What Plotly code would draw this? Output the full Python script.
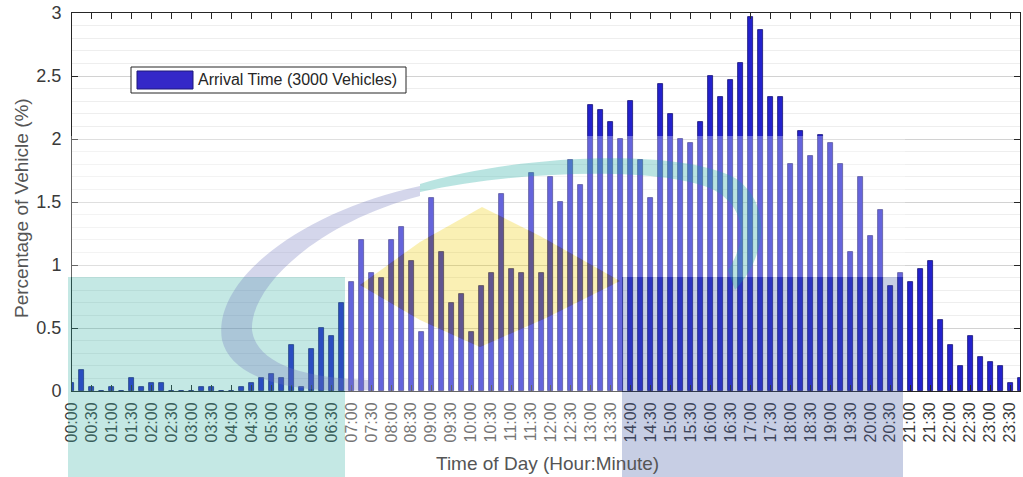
import plotly.graph_objects as go

# ---------------- data ----------------
slots = [f"{h:02d}:{m:02d}" for h in range(24) for m in (0, 15, 30, 45)]
tick_labels = slots[::2]

# number of arriving vehicles in each 15-minute slot (3000 vehicles total)
vehicle_counts = [
    2, 5, 1, 0, 1, 0, 3, 1, 2, 2,
    0, 0, 0, 1, 1, 0, 0, 1, 2, 3,
    4, 3, 11, 1, 10, 15, 13, 21, 26, 36,
    28, 27, 36, 39, 31, 14, 46, 33, 21, 23,
    14, 25, 28, 47, 29, 28, 52, 28, 51, 45,
    55, 49, 68, 67, 64, 60, 69, 55, 46, 73,
    66, 60, 59, 64, 75, 70, 74, 78, 89, 86,
    70, 70, 54, 62, 56, 61, 59, 54, 33, 51,
    37, 43, 25, 28, 26, 29, 31, 17, 11, 6,
    13, 8, 7, 6, 2, 3,
]
total_vehicles = 3000
percent = [c / total_vehicles * 100 for c in vehicle_counts]

series_name = "Arrival Time (3000 Vehicles)"
x_title = "Time of Day (Hour:Minute)"
y_title = "Percentage of Vehicle (%)"

# ---------------- layout geometry ----------------
W, H = 1023, 477
ML, MR, MT, MB = 72, 3, 13, 86
PW = W - ML - MR
PH = H - MT - MB


def px(x):
    return (x - ML) / PW


def py(y):
    return (H - MB - y) / PH


def path(cmds):
    out = []
    for c in cmds:
        op = c[0]
        if op == "Z":
            out.append("Z")
        else:
            pts = " ".join(f"{px(x):.5f},{py(y):.5f}" for x, y in c[1:])
            out.append(f"{op} {pts}")
    return " ".join(out)


def rect_path(x0, y0, x1, y1):
    return path([("M", (x0, y0)), ("L", (x1, y0)), ("L", (x1, y1)),
                 ("L", (x0, y1)), ("Z",)])


FONT = "Liberation Sans, Arial, sans-serif"
AX = "#262626"

fig = go.Figure()
fig.add_trace(go.Bar(
    x=slots, y=percent, width=0.5, name=series_name, showlegend=False,
    marker=dict(color="rgb(35,33,205)", line=dict(color="rgb(22,20,115)", width=0.8)),
))

# ---------------- watermark (logo) overlay ----------------
diamond = [(482, 207), (540, 236), (620, 281), (546, 318), (480, 347),
           (420, 320), (360, 285), (420, 242)]
white_outer = [("M", (68, 136)), ("L", (905, 136)), ("L", (905, 277)),
               ("L", (622, 277)), ("L", (622, 477)), ("L", (345, 477)),
               ("L", (345, 277)), ("L", (68, 277)), ("Z",)]
hole = [("M", diamond[0])] + [("L", p) for p in diamond[1:]] + [("Z",)]
shapes = []
shapes.append(dict(type="path", xref="paper", yref="paper", layer="above",
                   path=path(white_outer + hole), fillcolor="white",
                   opacity=0.3, line=dict(width=0)))
shapes.append(dict(type="path", xref="paper", yref="paper", layer="above",
                   path=rect_path(68, 277, 345, 477), fillcolor="rgb(58,178,165)",
                   opacity=0.3, line=dict(width=0)))
shapes.append(dict(type="path", xref="paper", yref="paper", layer="above",
                   path=rect_path(622, 277, 903, 477), fillcolor="rgb(70,92,165)",
                   opacity=0.3, line=dict(width=0)))
shapes.append(dict(type="path", xref="paper", yref="paper", layer="above",
                   path=path([("M", diamond[0])] + [("L", p) for p in diamond[1:]] + [("Z",)]),
                   fillcolor="rgb(238,205,5)", opacity=0.3, line=dict(width=0)))
# lavender crescent
shapes.append(dict(type="path", xref="paper", yref="paper", layer="above",
                   path=path([("M", (420, 186)),
                              ("C", (300, 212), (212, 280), (222, 340)),
                              ("C", (232, 382), (300, 394), (370, 390)),
                              ("L", (370, 380)),
                              ("C", (300, 378), (256, 362), (252, 330)),
                              ("C", (250, 285), (320, 222), (420, 196)), ("Z",)]),
                   fillcolor="rgb(112,118,188)", opacity=0.3, line=dict(width=0)))
# teal swoosh
shapes.append(dict(type="path", xref="paper", yref="paper", layer="above",
                   path=path([("M", (420, 184)),
                              ("C", (520, 154), (680, 148), (735, 178)),
                              ("C", (772, 203), (768, 255), (735, 290)),
                              ("L", (728, 270)),
                              ("C", (748, 240), (746, 208), (714, 190)),
                              ("C", (670, 168), (530, 168), (420, 192)), ("Z",)]),
                   fillcolor="rgb(22,165,155)", opacity=0.3, line=dict(width=0)))

# ---------------- legend (drawn) ----------------
shapes.append(dict(type="rect", xref="paper", yref="paper", layer="above",
                   x0=px(131), x1=px(406), y0=py(93), y1=py(67),
                   fillcolor="white", line=dict(color=AX, width=1)))
shapes.append(dict(type="rect", xref="paper", yref="paper", layer="above",
                   x0=px(137), x1=px(193), y0=py(89), y1=py(71),
                   fillcolor="rgb(52,40,200)", line=dict(color="rgb(30,25,120)", width=1)))

annotations = [
    dict(text=series_name, xref="paper", yref="paper", x=px(196), y=py(80),
         xanchor="left", yanchor="middle", showarrow=False,
         font=dict(family=FONT, size=16, color=AX)),
    dict(text=x_title, xref="paper", yref="paper", x=px(547), y=py(463),
         xanchor="center", yanchor="middle", showarrow=False,
         font=dict(family=FONT, size=19, color="#555555")),
    dict(text=y_title, xref="paper", yref="paper", x=px(22), y=py(208),
         xanchor="center", yanchor="middle", showarrow=False, textangle=-90,
         font=dict(family=FONT, size=19, color="#555555")),
]

fig.update_layout(
    width=W, height=H,
    margin=dict(l=ML, r=MR, t=MT, b=MB, pad=0),
    paper_bgcolor="white", plot_bgcolor="white",
    shapes=shapes, annotations=annotations,
    bargap=0,
    xaxis=dict(
        type="category", categoryorder="array", categoryarray=slots,
        range=[0, len(slots) - 1], tickmode="array",
        tickvals=tick_labels, ticktext=tick_labels, tickangle=-90,
        ticks="inside", ticklen=6, tickcolor=AX, tickwidth=1,
        showline=True, linecolor=AX, linewidth=1, mirror="ticks",
        showgrid=False, zeroline=False, automargin=False,
        ticklabelstandoff=4,
        tickfont=dict(family=FONT, size=16, color="#3a3a3a"),
    ),
    yaxis=dict(
        range=[0, 3], tickmode="array", tickvals=[0, 0.5, 1, 1.5, 2, 2.5, 3],
        ticktext=["0", "0.5", "1", "1.5", "2", "2.5", "3"],
        ticks="inside", ticklen=6, tickcolor=AX, tickwidth=1,
        showline=True, linecolor=AX, linewidth=1, mirror="ticks",
        showgrid=True, gridcolor="#d2d2d2", gridwidth=1, zeroline=False,
        minor=dict(dtick=0.1, tick0=0, showgrid=True, gridcolor="#eeeeee", ticks=""),
        automargin=False, ticklabelstandoff=6,
        tickfont=dict(family=FONT, size=18, color="#3a3a3a"),
    ),
)

fig.write_html("out.html")
